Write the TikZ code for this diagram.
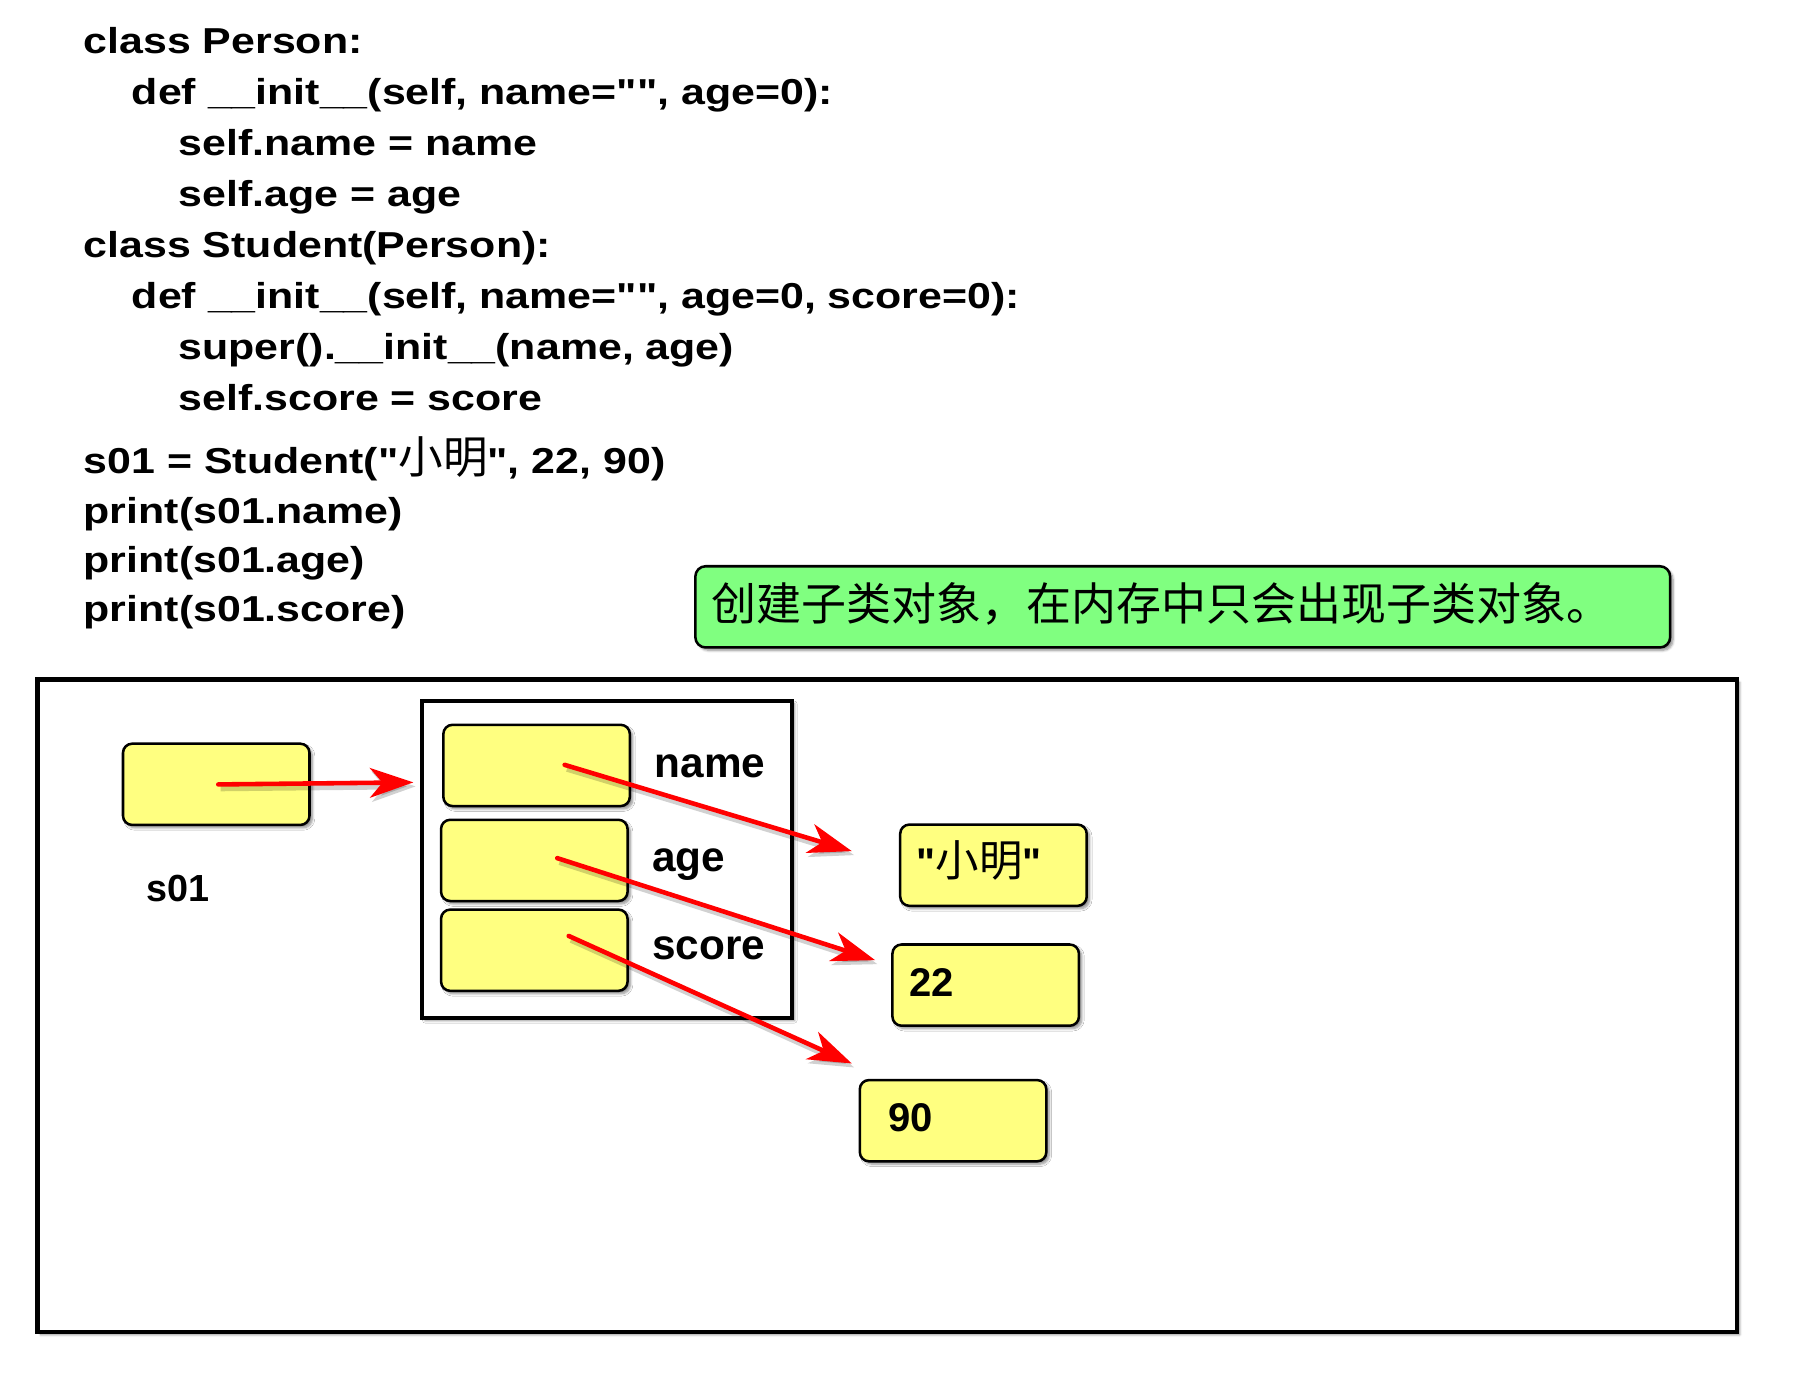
\documentclass[tikz,border=0pt]{standalone}
\usepackage{fontspec}
\setmainfont{Liberation Sans}
\newfontfamily\plainfont{Liberation Sans}
\newfontfamily\codefont{Liberation Sans}[FakeStretch=1.19]
\newfontfamily\cjk{Noto Sans CJK SC}
\usetikzlibrary{arrows.meta,shadows.blur}
\definecolor{yfill}{HTML}{FFFF80}
\definecolor{gfill}{HTML}{80FF80}
\begin{document}
\begin{tikzpicture}[x=1pt,y=-1pt,
  code/.style={anchor=base west, inner sep=0pt, font=\fontsize{31.5}{36}\selectfont\codefont\bfseries},
  lbl/.style={anchor=base west, inner sep=0pt, font=\fontsize{37}{44}\selectfont\plainfont\bfseries},
  val/.style={anchor=base west, inner sep=0pt, font=\fontsize{35}{42}\selectfont\plainfont\bfseries},
  shad/.style={blur shadow={shadow xshift=2.5pt, shadow yshift=-2.5pt, shadow blur steps=6, shadow opacity=45}},
  ybox/.style={draw=black, line width=2.2pt, fill=yfill, rounded corners=8pt,
    minimum width=163pt, minimum height=71pt, inner sep=0pt, shad},
  frame/.style={draw=black, line width=4pt, fill=white, inner sep=0pt, shad},
  ptr/.style={draw=red, line width=4pt, line cap=round,
    -{Stealth[length=38pt,width=26pt,inset=11pt]},
    preaction={draw=black, opacity=0.18, line width=5pt, -{Stealth[length=38pt,width=26pt,inset=11pt]}, transform canvas={shift={(2pt,-3.5pt)}}}},
]
\useasboundingbox (0,0) rectangle (1568,1205);

% code
\node[code] (c1) at (73,47) {class Person:};
\node[code] (c2) at (115,91.6) {def \_\_init\_\_(self, name="", age=0):};
\node[code] (c3) at (156,136.2) {self.name = name};
\node[code] (c4) at (156,180.8) {self.age = age};
\node[code] (c5) at (73,225.4) {class Student(Person):};
\node[code] (c6) at (115,270) {def \_\_init\_\_(self, name="", age=0, score=0):};
\node[code] (c7) at (156,314.6) {super().\_\_init\_\_(name, age)};
\node[code] (c8) at (156,359.2) {self.score = score};
\node[code] (c9) at (73,413.8) {s01 = Student("{\fontsize{39}{40}\selectfont\cjk\mdseries 小明}", 22, 90)};
\node[code] (c10) at (73,457.3) {print(s01.name)};
\node[code] (c11) at (73,500.6) {print(s01.age)};
\node[code] (c12) at (73,543.5) {print(s01.score)};

% note
\node[draw=black, line width=2.2pt, fill=gfill, rounded corners=9pt, minimum width=852pt, minimum height=71pt, inner sep=0pt, shad] (note) at (1033.75,530.4) {};
\node[anchor=west, inner sep=0pt, font=\fontsize{39.3}{40}\selectfont\cjk] (notetext) at (622,528) {创建子类对象，在内存中只会出现子类对象。};

% memory frame
\node[frame, minimum width=1485pt, minimum height=570pt] (mem) at (775.5,879) {};

% s01
\node[ybox] (s01box) at (189,685.5) {};
\node[lbl, font=\fontsize{33}{40}\selectfont\plainfont\bfseries] (s01lbl) at (128,788) {s01};

% object
\node[frame, line width=3.5pt, minimum width=323pt, minimum height=277pt] (obj) at (530.5,751) {};
\node[ybox] (namebox) at (469,669) {};
\node[ybox] (agebox) at (467,752) {};
\node[ybox] (scorebox) at (467,830.5) {};
\node[lbl] (namelbl) at (572,679.5) {name};
\node[lbl] (agelbl) at (570,762) {age};
\node[lbl] (scorelbl) at (570,839) {score};

% values
\node[ybox] (v1) at (868.3,756.2) {};
\node[ybox] (v2) at (861.5,861) {};
\node[ybox] (v3) at (833,979.5) {};
\node[val] (v1t) at (801,766) {"{\fontsize{38}{42}\selectfont\cjk\mdseries 小明}"};
\node[val] (v2t) at (794.5,870.6) {22};
\node[val] (v3t) at (776,989) {90};

% pointers
\coordinate (p0) at (190.8,685.6);
\coordinate (t0) at (361.3,683.8);
\coordinate (p1) at (493.5,668.5);
\coordinate (t1) at (744.5,743.9);
\coordinate (p2) at (487,750);
\coordinate (t2) at (764.9,839.2);
\coordinate (p3) at (497,818);
\coordinate (t3) at (744.5,929.5);
\draw[ptr] (p0) -- (t0);
\draw[ptr] (p1) -- (t1);
\draw[ptr] (p2) -- (t2);
\draw[ptr] (p3) -- (t3);
\end{tikzpicture}
\end{document}
